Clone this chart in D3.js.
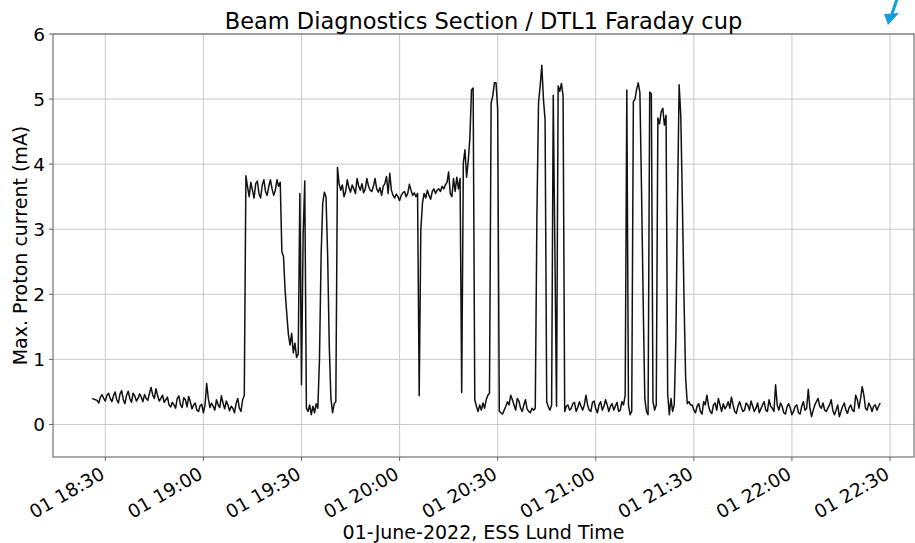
<!DOCTYPE html>
<html>
<head>
<meta charset="utf-8">
<script src="https://cdn.jsdelivr.net/npm/d3@7"></script>
<style>
  body { margin: 0; background: #fff; }
  svg { display: block; }
  text { font-family: "DejaVu Sans", sans-serif; fill: #000; }
</style>
</head>
<body>
<svg id="chart" width="915" height="543"></svg>
<script>
// Faraday cup readout, one sample every 30 s starting at 18:26:00
const seriesStart = "2022-06-01T18:26:00Z";
const sampleSeconds = 30;

// Max. proton current (mA); each row covers five minutes
const currentValues = [
  0.40,0.39,0.38,0.37,0.33,0.42,0.46,0.40,0.36,0.45, // 18:26
  0.48,0.40,0.35,0.44,0.50,0.38,0.33,0.47,0.52,0.38, // 18:31
  0.32,0.45,0.51,0.40,0.34,0.48,0.44,0.36,0.40,0.47, // 18:36
  0.42,0.35,0.46,0.40,0.37,0.48,0.57,0.45,0.40,0.55, // 18:41
  0.44,0.36,0.40,0.45,0.34,0.38,0.42,0.30,0.27,0.34, // 18:46
  0.30,0.25,0.40,0.44,0.30,0.26,0.41,0.38,0.27,0.43, // 18:51
  0.35,0.24,0.30,0.33,0.22,0.20,0.29,0.31,0.18,0.30, // 18:56
  0.63,0.40,0.26,0.33,0.28,0.22,0.38,0.30,0.26,0.44, // 19:01
  0.33,0.24,0.36,0.30,0.21,0.28,0.25,0.18,0.32,0.40, // 19:06
  0.25,0.20,0.38,0.44,3.82,3.65,3.50,3.72,3.60,3.48, // 19:11
  3.70,3.74,3.55,3.48,3.68,3.76,3.58,3.52,3.66,3.76, // 19:16
  3.62,3.52,3.60,3.76,3.66,3.72,2.65,2.58,2.05,1.70, // 19:21
  1.38,1.22,1.40,1.10,1.25,1.03,1.08,3.55,0.61,2.90, // 19:26
  3.74,0.25,0.20,0.30,0.15,0.28,0.18,0.32,0.25,1.00, // 19:31
  2.60,3.40,3.57,3.50,2.60,1.20,0.40,0.18,0.32,0.35, // 19:36
  3.95,3.70,3.60,3.68,3.50,3.58,3.76,3.64,3.57,3.68, // 19:41
  3.62,3.55,3.78,3.66,3.60,3.70,3.56,3.62,3.78,3.66, // 19:46
  3.60,3.58,3.66,3.78,3.62,3.57,3.64,3.52,3.66,3.70, // 19:51
  3.81,3.55,3.86,3.60,3.52,3.48,3.54,3.50,3.44,3.52, // 19:56
  3.56,3.58,3.50,3.55,3.69,3.60,3.52,3.56,3.50,3.55, // 20:01
  0.44,3.00,3.40,3.55,3.48,3.60,3.52,3.46,3.58,3.62, // 20:06
  3.55,3.60,3.62,3.58,3.66,3.62,3.68,3.72,3.88,3.55, // 20:11
  3.50,3.78,3.58,3.80,3.62,3.78,0.49,4.02,4.22,3.80, // 20:16
  4.05,4.40,5.14,5.17,0.38,0.28,0.20,0.30,0.22,0.33, // 20:21
  0.25,0.38,0.45,0.48,4.94,5.05,5.25,5.25,4.85,0.20, // 20:26
  0.18,0.16,0.22,0.28,0.35,0.30,0.45,0.38,0.30,0.22, // 20:31
  0.40,0.36,0.25,0.20,0.30,0.38,0.24,0.20,0.18,0.25, // 20:36
  0.22,0.25,3.20,4.95,5.20,5.52,5.00,4.68,0.35,0.27, // 20:41
  0.22,0.30,5.06,2.67,0.28,5.20,5.12,5.24,5.05,0.20, // 20:46
  0.28,0.30,0.22,0.25,0.32,0.34,0.20,0.26,0.35,0.28, // 20:51
  0.22,0.30,0.45,0.30,0.22,0.20,0.34,0.36,0.24,0.18, // 20:56
  0.30,0.35,0.22,0.28,0.38,0.30,0.20,0.28,0.32,0.22, // 21:01
  0.28,0.34,0.20,0.22,0.35,0.30,0.45,5.14,0.30,0.15, // 21:06
  0.20,4.96,5.00,5.15,5.25,5.10,3.60,1.90,0.40,0.20, // 21:11
  0.15,5.11,5.08,0.35,0.22,0.30,4.71,4.62,4.80,4.86, // 21:16
  4.60,4.75,0.46,0.15,0.40,0.20,0.30,1.30,3.40,5.22, // 21:21
  4.75,3.40,1.90,0.70,0.32,0.35,0.30,0.30,0.22,0.18, // 21:26
  0.28,0.32,0.20,0.16,0.35,0.30,0.45,0.28,0.20,0.17, // 21:31
  0.30,0.33,0.22,0.40,0.30,0.20,0.32,0.24,0.28,0.35, // 21:36
  0.25,0.42,0.30,0.20,0.17,0.28,0.35,0.27,0.20,0.22, // 21:41
  0.33,0.30,0.22,0.36,0.28,0.20,0.25,0.33,0.18,0.24, // 21:46
  0.30,0.35,0.22,0.20,0.38,0.28,0.25,0.20,0.61,0.30, // 21:51
  0.22,0.33,0.28,0.18,0.16,0.27,0.32,0.25,0.15,0.20, // 21:56
  0.28,0.30,0.18,0.16,0.28,0.35,0.22,0.25,0.54,0.25, // 22:01
  0.12,0.22,0.30,0.35,0.40,0.28,0.25,0.33,0.22,0.20, // 22:06
  0.25,0.30,0.38,0.22,0.15,0.22,0.30,0.12,0.20,0.28, // 22:11
  0.33,0.22,0.17,0.26,0.30,0.22,0.20,0.45,0.38,0.25, // 22:16
  0.40,0.58,0.45,0.25,0.22,0.33,0.28,0.20,0.28,0.30, // 22:21
  0.22,0.28,0.33                                      // 22:26
];

const xTickLabels = ["18:30","19:00","19:30","20:00","20:30","21:00","21:30","22:00","22:30"];
const yTickValues = [0, 1, 2, 3, 4, 5, 6];
const xDomain = ["2022-06-01T18:14:00Z", "2022-06-01T22:37:20Z"];
const yDomain = [-0.5, 6];

const titleText = "Beam Diagnostics Section / DTL1 Faraday cup";
const xLabelText = "01-June-2022, ESS Lund Time";
const yLabelText = "Max. Proton current (mA)";

// ---- layout ----
const W = 915, H = 543;
const m = { left: 53, right: 1, top: 34, bottom: 86 };
const pw = W - m.left - m.right, ph = H - m.top - m.bottom;

const svg = d3.select("#chart");
svg.append("rect").attr("width", W).attr("height", H).attr("fill", "#fff");

const t0 = new Date(seriesStart).getTime();
const data = currentValues.map((v, i) => ({ t: new Date(t0 + i * sampleSeconds * 1000), v }));

const x = d3.scaleUtc().domain(xDomain.map(d => new Date(d))).range([0, pw]);
const y = d3.scaleLinear().domain(yDomain).range([ph, 0]);

const g = svg.append("g").attr("transform", `translate(${m.left},${m.top})`);

const xTicks = xTickLabels.map(s => new Date(`2022-06-01T${s}:00Z`));
const fmt = d3.utcFormat("%d %H:%M");

// grid
g.append("g").selectAll("line").data(xTicks).join("line")
  .attr("x1", d => x(d)).attr("x2", d => x(d)).attr("y1", 0).attr("y2", ph)
  .attr("stroke", "#c9c9c9").attr("stroke-width", 1);
g.append("g").selectAll("line").data(yTickValues).join("line")
  .attr("y1", d => y(d)).attr("y2", d => y(d)).attr("x1", 0).attr("x2", pw)
  .attr("stroke", "#c9c9c9").attr("stroke-width", 1);

// series
const line = d3.line().x(d => x(d.t)).y(d => y(d.v));
g.append("path").datum(data).attr("d", line)
  .attr("fill", "none").attr("stroke", "#111").attr("stroke-width", 1.5)
  .attr("stroke-linejoin", "round");

// spines
const spine = "#666";
g.append("rect").attr("x", 0).attr("y", 0).attr("width", pw).attr("height", ph)
  .attr("fill", "none").attr("stroke", spine).attr("stroke-width", 1.1);

// x axis ticks and rotated labels
const xAx = g.append("g").attr("transform", `translate(0,${ph})`);
xAx.selectAll("line").data(xTicks).join("line")
  .attr("x1", d => x(d)).attr("x2", d => x(d)).attr("y1", 0).attr("y2", 4)
  .attr("stroke", spine).attr("stroke-width", 1);
xAx.selectAll("text").data(xTicks).join("text")
  .attr("transform", d => `translate(${x(d) - 6},${9}) rotate(-30)`)
  .attr("text-anchor", "end").attr("dy", "0.72em")
  .style("font-size", "18.5px")
  .text(d => fmt(d));

// y axis ticks and labels
const yAx = g.append("g");
yAx.selectAll("line").data(yTickValues).join("line")
  .attr("x1", -4).attr("x2", 0).attr("y1", d => y(d)).attr("y2", d => y(d))
  .attr("stroke", spine).attr("stroke-width", 1);
yAx.selectAll("text").data(yTickValues).join("text")
  .attr("x", -8).attr("y", d => y(d)).attr("dy", "0.36em")
  .attr("text-anchor", "end").style("font-size", "18.5px")
  .text(d => d);

// titles
svg.append("text").attr("x", m.left + pw / 2).attr("y", 29)
  .attr("text-anchor", "middle").style("font-size", "22.5px").text(titleText);
svg.append("text").attr("x", m.left + pw / 2).attr("y", 539)
  .attr("text-anchor", "middle").style("font-size", "19px").text(xLabelText);
svg.append("text").attr("transform", `translate(27,${m.top + ph / 2}) rotate(-90)`)
  .attr("text-anchor", "middle").style("font-size", "19px").text(yLabelText);

// pointer arrow at the top right
const arrowBlue = "#129ee0";
svg.append("line").attr("x1", 898).attr("y1", -4).attr("x2", 892).attr("y2", 14)
  .attr("stroke", arrowBlue).attr("stroke-width", 3);
svg.append("path").attr("d", "M884,14 L899,13 L888,25 Z").attr("fill", arrowBlue);
</script>
</body>
</html>
